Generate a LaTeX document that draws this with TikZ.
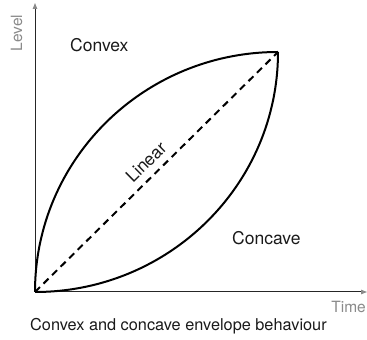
\documentclass[tikz,border=0pt]{standalone}
\usepackage{fontspec}
\setmainfont{TeX Gyre Heros}
\usetikzlibrary{arrows.meta}
\definecolor{axisgray}{HTML}{8A8A8A}
\definecolor{ink}{HTML}{1A1A1A}
\tikzset{
  axisline/.style={line width=1pt, draw=black!85, -{Triangle[length=6pt,width=4.5pt,color=axisgray]}},
  curve/.style={line width=2pt, draw=black, line join=round},
  linear/.style={line width=2pt, draw=black, dash pattern=on 7pt off 5pt},
  axislabel/.style={text=axisgray, font=\fontsize{15.5}{18}\selectfont, inner sep=0pt},
  curvelabel/.style={text=ink, font=\fontsize{17.5}{20}\selectfont, inner sep=0pt},
  caption/.style={text=ink, font=\fontsize{16.3}{19}\selectfont, inner sep=0pt}
}
\begin{document}
\begin{tikzpicture}[x=1pt,y=1pt]
\useasboundingbox (0,0) rectangle (367,340);
\coordinate (O) at (35,48);
\coordinate (E) at (278,288);
\coordinate (ytop) at (35,337);
\coordinate (xend) at (367,48);
\draw[axisline] (O) -- (ytop);
\draw[axisline] (O) -- (xend);
\draw[curve] (O) arc[start angle=180, end angle=90, x radius=243pt, y radius=240pt];
\draw[curve] (O) arc[start angle=270, end angle=360, x radius=243pt, y radius=240pt];
\draw[linear] (O) -- (E);
\node[axislabel, rotate=90, anchor=base] (level) at (22,307) {Level};
\node[axislabel, anchor=base east] (time) at (366,27) {Time};
\node[curvelabel, anchor=base west] (convex) at (70,288) {Convex};
\node[curvelabel, anchor=base west] (concave) at (232,95) {Concave};
\node[curvelabel, rotate=44.6, anchor=center] (lin) at (146,178) {Linear};
\node[caption, anchor=base west] (cap) at (30,9) {Convex and concave envelope behaviour};
\end{tikzpicture}
\end{document}
